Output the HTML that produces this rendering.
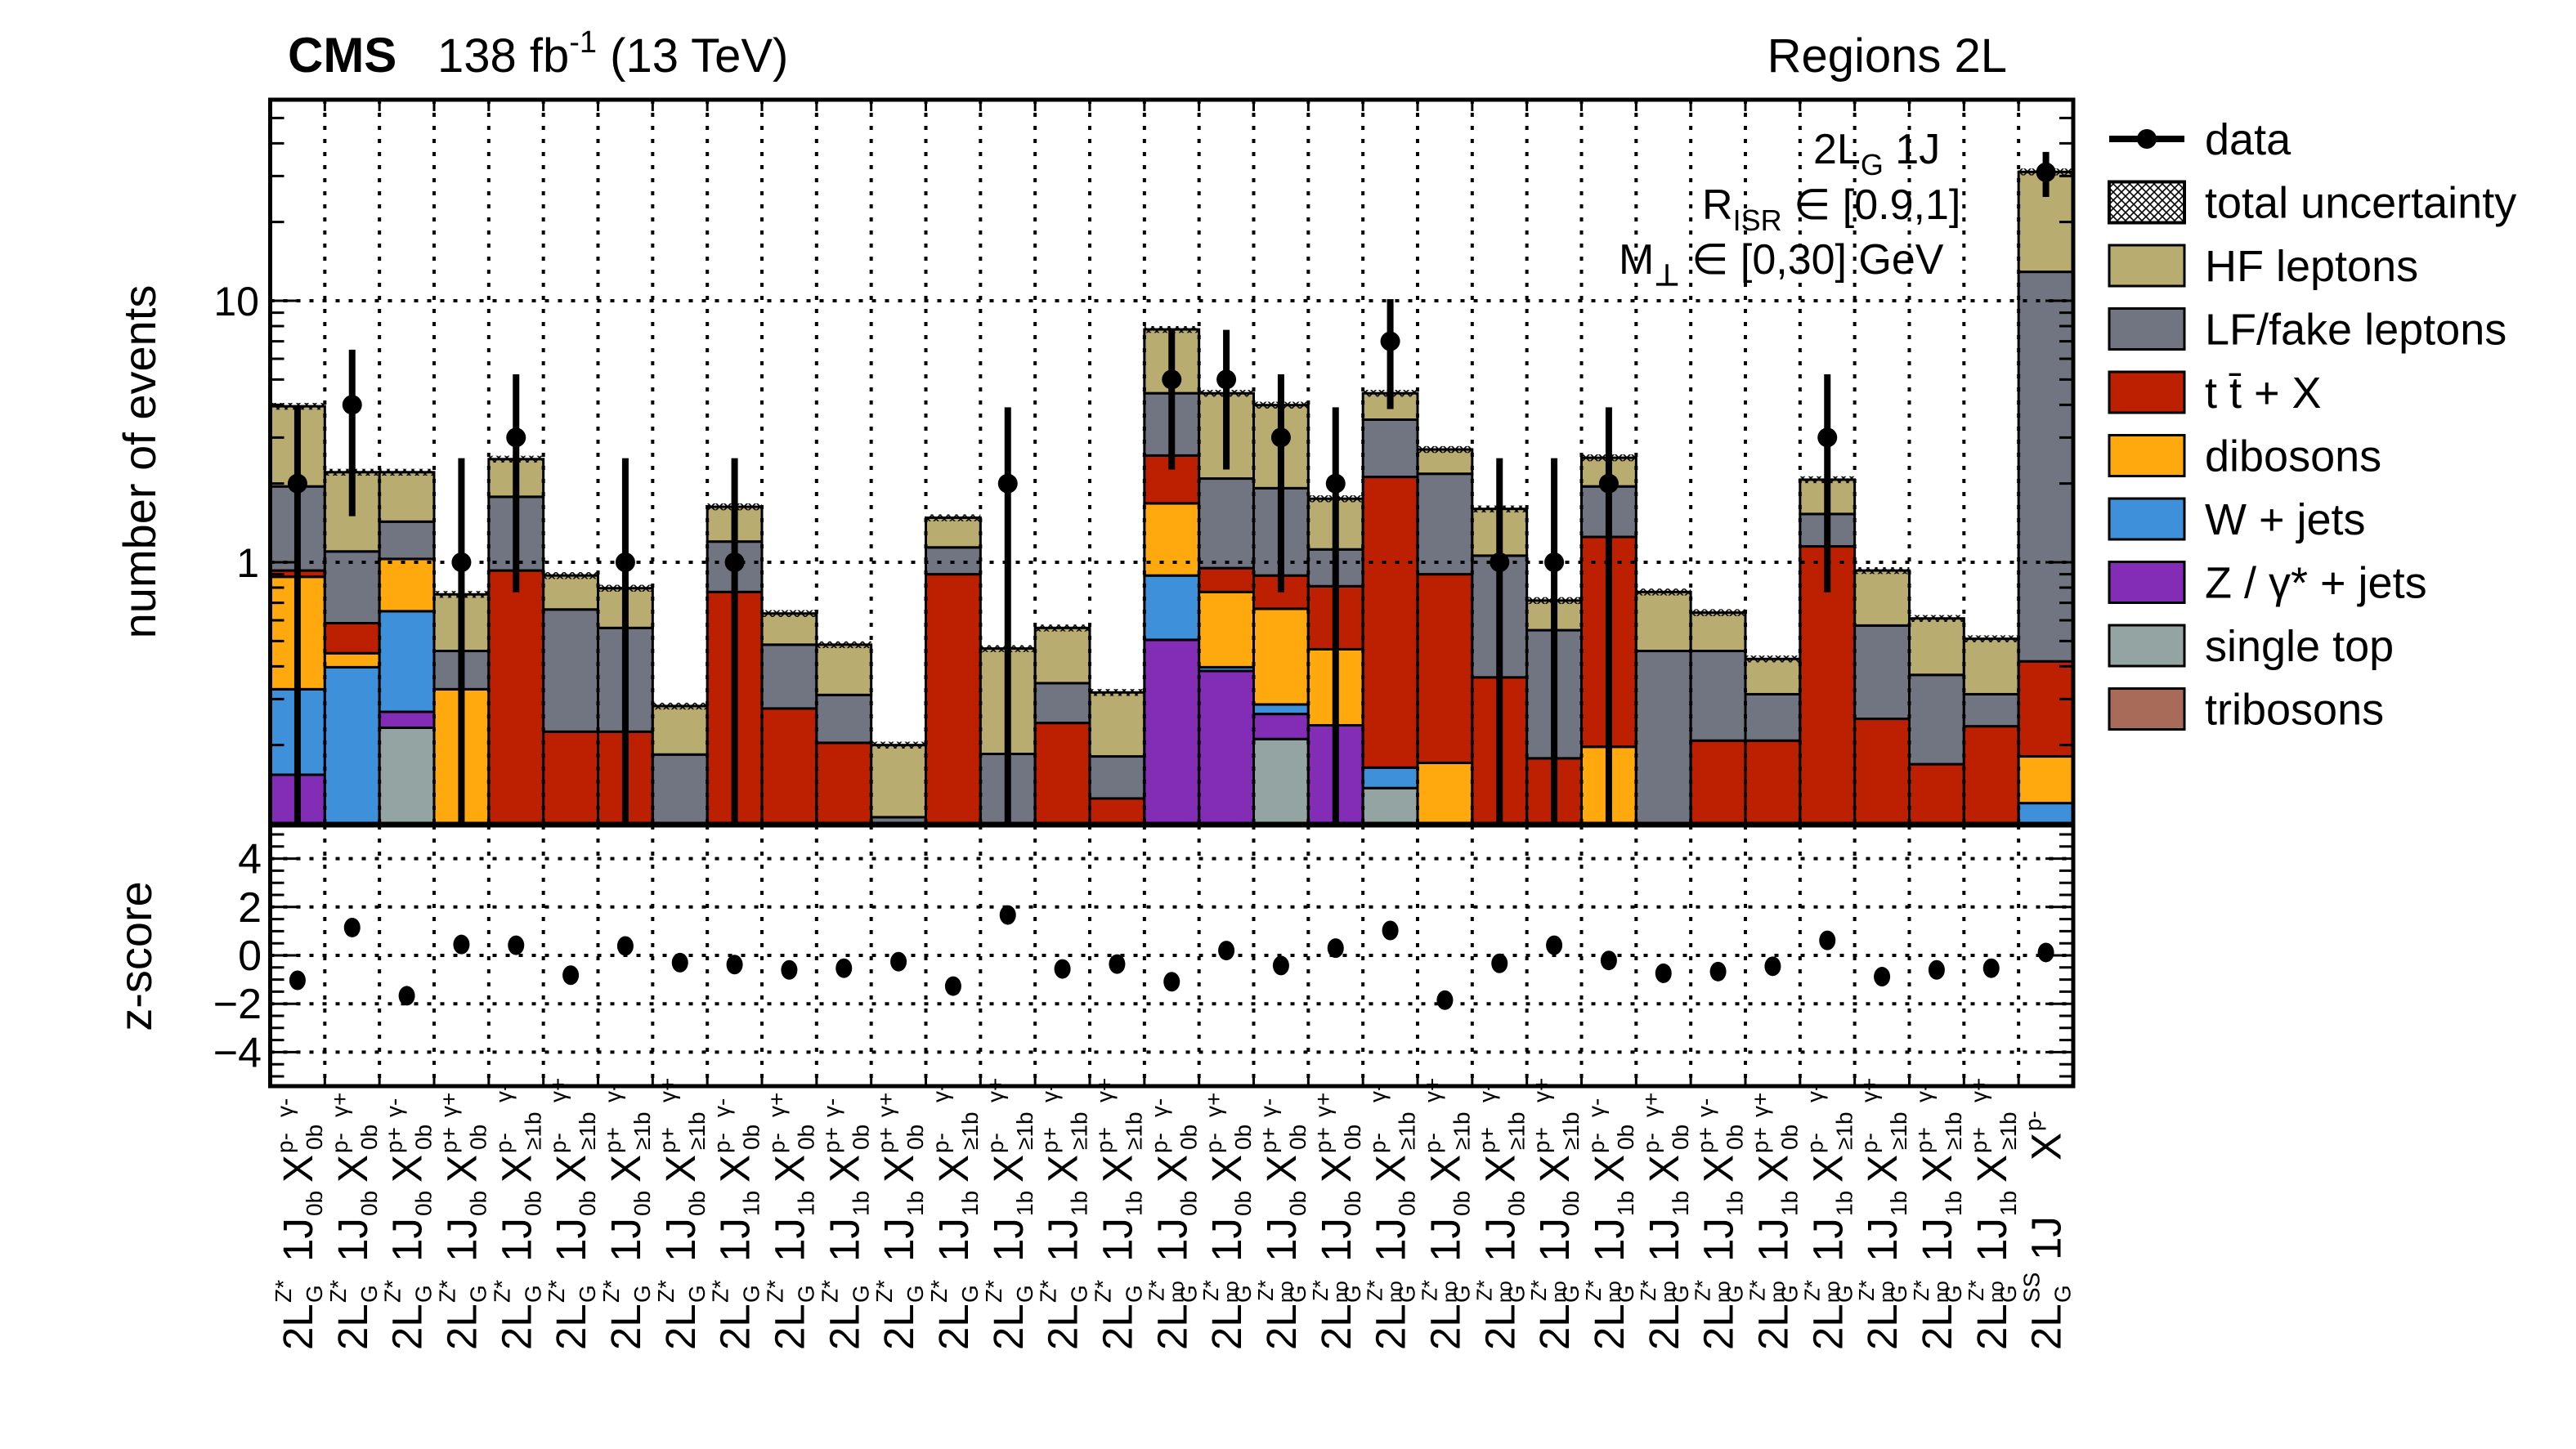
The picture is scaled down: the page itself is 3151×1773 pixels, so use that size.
<!DOCTYPE html>
<html><head><meta charset="utf-8"><title>CMS Regions 2L</title>
<style>
html,body{margin:0;padding:0;background:#fff;}
svg{display:block;font-family:"Liberation Sans",Arial,sans-serif;}
</style></head>
<body>
<svg id="chart" width="3151" height="1773" viewBox="0 0 3151 1773" xmlns="http://www.w3.org/2000/svg">
<defs>
<pattern id="xhatch" patternUnits="userSpaceOnUse" width="10" height="10">
<path d="M0,0 L10,10 M10,0 L0,10" stroke="#000" stroke-width="1.6"/>
</pattern>
</defs>
<g id="layer-main"></g>
<g id="layer-ratio"></g>
<g id="layer-labels"></g>
<text x="352" y="88" font-size="60" font-weight="bold">CMS</text>
<text x="535" y="88" font-size="58">138 fb<tspan dy="-24" font-size="38">-1</tspan><tspan dy="24"> (13 TeV)</tspan></text>
<text x="2455" y="88" font-size="58" text-anchor="end">Regions  2L</text>
<text transform="translate(190,565) rotate(-90)" font-size="56" text-anchor="middle">number of events</text>
<text transform="translate(185,1170) rotate(-90)" font-size="56" text-anchor="middle">z-score</text>
<g font-size="52">
<text x="2218" y="200">2L<tspan dy="14" font-size="36">G</tspan><tspan dy="-14"> 1J</tspan></text>
<text x="2082" y="268">R<tspan dy="14" font-size="36">ISR</tspan><tspan dy="-14">   ∈ [0.9,1]</tspan></text>
<text x="1980" y="335">M<tspan dy="14" font-size="36" font-weight="bold">⊥</tspan><tspan dy="-14">   ∈ [0,30] GeV</tspan></text>
</g>
<g id="legend"></g>
</svg>
<script>
// ---- data ----
const singleTop = [0,0,0.233,0,0,0,0,0,0,0,0,0,0,0,0,0,0,0,0.211,0,0.137,0,0,0,0,0,0,0,0,0,0,0,0];
const zJets     = [0.154,0,0.035,0,0,0,0,0,0,0,0,0,0,0,0,0,0.505,0.384,0.052,0.238,0,0,0,0,0,0,0,0,0,0,0,0,0];
const wJets     = [0.173,0.397,0.382,0,0,0,0,0,0,0,0,0,0,0,0,0,0.385,0.013,0.023,0,0.027,0,0,0,0,0,0,0,0,0,0,0,0.12];
const dibosons  = [0.553,0.052,0.38,0.327,0,0,0,0,0,0,0,0,0,0,0,0,0.79,0.373,0.378,0.227,0,0.171,0,0,0.197,0,0,0,0,0,0,0,0.061];
const ttX       = [0.05,0.136,0,0,0.93,0.225,0.225,0,0.77,0.276,0.204,0,0.9,0,0.243,0.125,0.88,0.18,0.226,0.345,1.956,0.729,0.363,0.178,1.053,0,0.208,0.208,1.15,0.252,0.169,0.236,0.237];
const lfFake    = [1.02,0.515,0.40,0.131,0.85,0.435,0.336,0.184,0.43,0.208,0.107,0.106,0.24,0.185,0.102,0.056,1.87,1.14,1.03,0.31,1.39,1.28,0.697,0.372,0.70,0.458,0.25,0.105,0.38,0.321,0.202,0.077,12.48];
const hfLep     = [2.0,1.11,0.78,0.296,0.70,0.23,0.235,0.098,0.43,0.153,0.173,0.094,0.34,0.283,0.216,0.137,3.34,2.34,2.07,0.63,0.92,0.52,0.54,0.164,0.56,0.312,0.184,0.114,0.54,0.357,0.239,0.197,18.2];
const dataCounts= [2,4,0,1,3,0,1,0,1,0,0,0,0,2,0,0,5,5,3,2,7,0,1,1,2,0,0,0,3,0,0,0,31];
const zScores   = [-1.03,1.15,-1.67,0.45,0.42,-0.82,0.39,-0.3,-0.38,-0.6,-0.53,-0.26,-1.27,1.67,-0.56,-0.36,-1.09,0.2,-0.42,0.3,1.03,-1.85,-0.33,0.42,-0.21,-0.74,-0.67,-0.45,0.62,-0.88,-0.6,-0.53,0.12];
const zType     = ["Z*","Z*","Z*","Z*","Z*","Z*","Z*","Z*","Z*","Z*","Z*","Z*","Z*","Z*","Z*","Z*","no Z*","no Z*","no Z*","no Z*","no Z*","no Z*","no Z*","no Z*","no Z*","no Z*","no Z*","no Z*","no Z*","no Z*","no Z*","no Z*","SS"];
const jetTag    = ["0b","0b","0b","0b","0b","0b","0b","0b","1b","1b","1b","1b","1b","1b","1b","1b","0b","0b","0b","0b","0b","0b","0b","0b","1b","1b","1b","1b","1b","1b","1b","1b",""];
const xP        = ["p-","p-","p+","p+","p-","p-","p+","p+","p-","p-","p+","p+","p-","p-","p+","p+","p-","p-","p+","p+","p-","p-","p+","p+","p-","p-","p+","p+","p-","p-","p+","p+","p-"];
const xB        = ["0b","0b","0b","0b","≥1b","≥1b","≥1b","≥1b","0b","0b","0b","0b","≥1b","≥1b","≥1b","≥1b","0b","0b","0b","0b","≥1b","≥1b","≥1b","≥1b","0b","0b","0b","0b","≥1b","≥1b","≥1b","≥1b",""];
const xG        = ["γ-","γ+","γ-","γ+","γ-","γ+","γ-","γ+","γ-","γ+","γ-","γ+","γ-","γ+","γ-","γ+","γ-","γ+","γ-","γ+","γ-","γ+","γ-","γ+","γ-","γ+","γ-","γ+","γ-","γ+","γ-","γ+",""];
const yTickVals = [1,10];
const zTickVals = [4,2,0,-2,-4];

// ---- geometry ----
const NS="http://www.w3.org/2000/svg";
const X0=330.5, X1=2536, Y0=122, Y1=1008, R0=1010, R1=1329;
const nb=dataCounts.length, bw=(X1-X0)/nb;
function xb(i){return X0+i*bw;}
function yv(v){const y=688-320*Math.log10(Math.max(v,1e-6));return Math.min(Math.max(y,Y0),Y1);}
function yz(z){return 1169-29.6*z;}
function mk(tag,attrs,parent){const e=document.createElementNS(NS,tag);for(const k in attrs)e.setAttribute(k,attrs[k]);parent.appendChild(e);return e;}
const main=document.getElementById('layer-main'), ratio=document.getElementById('layer-ratio'), labs=document.getElementById('layer-labels'), leg=document.getElementById('legend');

const procs=[
 {arr:singleTop,col:"#94a4a2",name:"single-top"},
 {arr:zJets,col:"#832db6",name:"z-jets"},
 {arr:wJets,col:"#3f90da",name:"w-jets"},
 {arr:dibosons,col:"#ffa90e",name:"dibosons"},
 {arr:ttX,col:"#bd1f01",name:"ttx"},
 {arr:lfFake,col:"#717581",name:"lf-fake-leptons"},
 {arr:hfLep,col:"#b9ac70",name:"hf-leptons"}];

for(let i=0;i<nb;i++){
  let cum=0;
  for(const p of procs){
    const v=p.arr[i]; if(v<=0) continue;
    const lo=cum, hi=cum+v; cum=hi;
    const yt=yv(hi), yb=lo>0?yv(lo):Y1;
    if(yb-yt<0.5) continue;
    const r=mk('rect',{x:xb(i),y:yt,width:bw,height:yb-yt,fill:p.col,stroke:"#000","stroke-width":3},main);
    
    
  }
  const u=mk('rect',{x:xb(i),y:yv(cum*1.03),width:bw,height:Math.max(yv(cum*0.97)-yv(cum*1.03),3),fill:"url(#xhatch)"},main);
  
  
}
for(let i=1;i<nb;i++){
  const l=mk('line',{x1:xb(i),x2:xb(i),y1:Y0,y2:Y1,stroke:"#000","stroke-width":4,"stroke-dasharray":"5 11"},main);
  
  
}
for(const t of yTickVals){
  const l=mk('line',{x1:X0,x2:X1,y1:yv(t),y2:yv(t),stroke:"#000","stroke-width":4,"stroke-dasharray":"5 11"},main);
  
  
  const tx=mk('text',{x:317,y:yv(t)+18,"font-size":50,"text-anchor":"end"},main);
  tx.textContent=String(t);
  
  
}
for(let d=-1;d<=1;d++){for(let m=1;m<=9;m++){const v=m*Math.pow(10,d);const y=yv(v);if(y<=Y0||y>=Y1)continue;const len=(m===1)?34:17;
  mk('line',{x1:X0,x2:X0+len,y1:y,y2:y,stroke:"#000","stroke-width":3},main);
  mk('line',{x1:X1,x2:X1-len,y1:y,y2:y,stroke:"#000","stroke-width":3},main);}}
for(let i=1;i<nb;i++){mk('line',{x1:xb(i),x2:xb(i),y1:Y1,y2:Y1-14,stroke:"#000","stroke-width":3},main);mk('line',{x1:xb(i),x2:xb(i),y1:Y0,y2:Y0+14,stroke:"#000","stroke-width":3},main);}
for(let i=0;i<nb;i++){
  const n=dataCounts[i]; if(n<=0) continue;
  const e=Math.sqrt(n)+0.5, cx=xb(i)+bw/2;
  const el=mk('line',{x1:cx,x2:cx,y1:yv(n+e),y2:yv(Math.max(n-e,0.01)),stroke:"#000","stroke-width":8},main);
  
  
  const c=mk('circle',{cx:cx,cy:yv(n),r:12,fill:"#000"},main);
  
  
}
const fr=mk('rect',{x:X0,y:Y0,width:X1-X0,height:Y1-Y0,fill:"none",stroke:"#000","stroke-width":5},main);



for(let i=1;i<nb;i++){mk('line',{x1:xb(i),x2:xb(i),y1:R0,y2:R1,stroke:"#000","stroke-width":4,"stroke-dasharray":"5 11"},ratio);
  mk('line',{x1:xb(i),x2:xb(i),y1:R1,y2:R1-14,stroke:"#000","stroke-width":3},ratio);}
for(const t of zTickVals){
  mk('line',{x1:X0,x2:X1,y1:yz(t),y2:yz(t),stroke:"#000","stroke-width":4,"stroke-dasharray":"5 11"},ratio);
  const tx=mk('text',{x:320,y:yz(t)+18,"font-size":52,"text-anchor":"end"},ratio);
  tx.textContent=(t<0?"\u2212":"")+Math.abs(t);
  
  
}
for(let z=-5;z<=5;z+=0.5){const y=yz(z);if(y<=R0||y>=R1)continue;const len=(Math.abs(z%2)<1e-9)?34:17;
  mk('line',{x1:X0,x2:X0+len,y1:y,y2:y,stroke:"#000","stroke-width":3},ratio);
  mk('line',{x1:X1,x2:X1-len,y1:y,y2:y,stroke:"#000","stroke-width":3},ratio);}
for(let i=0;i<nb;i++){
  const c=mk('ellipse',{cx:xb(i)+bw/2,cy:yz(zScores[i]),rx:10,ry:12,fill:"#000"},ratio);
  
  
}
const rf=mk('rect',{x:X0,y:R0,width:X1-X0,height:R1-R0,fill:"none",stroke:"#000","stroke-width":5},ratio);



function rtext(g,x,y,size,str){const t=mk('text',{x:x,y:y,"font-size":size},g);t.textContent=str;return t;}
for(let i=0;i<nb;i++){
  const bx=xb(i)+bw/2+18;
  const g1=mk('g',{transform:`translate(${bx},1652) rotate(-90)`},labs);
  
  
  rtext(g1,0,0,51,"2L"); rtext(g1,58,12,28,"G");
  if(zType[i]==="no Z*"){rtext(g1,58,-4,24,"no"); rtext(g1,60,-28,26,"Z*");}
  else rtext(g1,58,-26,28,zType[i]);
  if(i===nb-1){
    rtext(g1,110,0,51,"1J");
    const g3=mk('g',{transform:`translate(${bx},1420) rotate(-90)`},labs);
    
    
    rtext(g3,0,0,51,"X"); rtext(g3,36,-24,28,xP[i]);
    continue;
  }
  const g2=mk('g',{transform:`translate(${bx},1544) rotate(-90)`},labs);
  
  
  rtext(g2,0,0,51,"1J"); rtext(g2,56,12,28,jetTag[i]);
  const g3=mk('g',{transform:`translate(${bx},1447) rotate(-90)`},labs);
  
  
  rtext(g3,0,0,51,"X"); rtext(g3,36,-24,28,xP[i]); rtext(g3,40,12,28,xB[i]);
  rtext(g3,xB[i].length>2?98:80,-24,28,xG[i]);
}

const legItems=[
 {t:"data",kind:"data"},{t:"total uncertainty",kind:"hatch"},
 {t:"HF leptons",col:"#b9ac70"},{t:"LF/fake leptons",col:"#717581"},{t:"t t\u0304 + X",col:"#bd1f01"},
 {t:"dibosons",col:"#ffa90e"},{t:"W + jets",col:"#3f90da"},{t:"Z / \u03b3* + jets",col:"#832db6"},
 {t:"single top",col:"#94a4a2"},{t:"tribosons",col:"#a96b59"}];
legItems.forEach((it,k)=>{
  const y=170+k*77.5;
  const g=mk('g',{},leg);
  
  
  if(it.kind==="data"){mk('line',{x1:2580,x2:2672,y1:y,y2:y,stroke:"#000","stroke-width":8},g);mk('circle',{cx:2626,cy:y,r:12,fill:"#000"},g);}
  else if(it.kind==="hatch"){mk('rect',{x:2580,y:y-25,width:92,height:50,fill:"url(#xhatch)",stroke:"#000","stroke-width":4},g);}
  else mk('rect',{x:2580,y:y-25,width:92,height:50,fill:it.col,stroke:"#000","stroke-width":3},g);
  const tx=mk('text',{x:2697,y:y+19,"font-size":54},g);tx.textContent=it.t;
});
</script>
</body></html>
